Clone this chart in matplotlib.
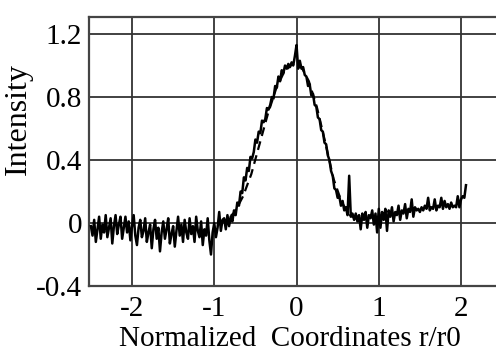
import numpy as np
import matplotlib
matplotlib.use("Agg")
import matplotlib.pyplot as plt

# ---- data ----
seg1_start = -2.5
seg1_y = [-0.02, -0.08, 0.02, -0.12, -0.04, 0.04, -0.10, -0.01, -0.06, 0.05,
          -0.09, -0.03, 0.03, -0.13, -0.02, 0.05, -0.07, -0.01, 0.04, -0.10,
          -0.03, 0.04, -0.06, 0.01, -0.11, -0.02, 0.05, -0.08, -0.14, -0.03,
          0.02, -0.09, -0.05, 0.03, -0.12, -0.06, -0.01, -0.16, -0.04, 0.02,
          -0.10, -0.03, -0.18, -0.06, 0.01, -0.10, -0.04, 0.03, -0.13, -0.07,
          -0.02, -0.15, -0.05, 0.04, -0.08, -0.01, -0.12, 0.02, -0.06, -0.10,
          0.03, -0.07, -0.02, -0.12, 0.04, -0.05, -0.09, 0.01, -0.14, -0.04,
          -0.08, 0.03, -0.11, -0.20, -0.06, 0.00, -0.09, -0.03, 0.07, -0.05,
          0.02]
seg2_start = -0.88
seg2_y = [0.03, -0.04, 0.05, -0.02, 0.04, 0.01, 0.08, 0.05, 0.13, 0.11,
          0.20, 0.19, 0.29, 0.27, 0.35, 0.33, 0.42, 0.41, 0.45, 0.53,
          0.51, 0.58, 0.57, 0.65, 0.64, 0.66, 0.73, 0.72, 0.75, 0.80,
          0.79, 0.87, 0.86, 0.93, 0.90, 0.97, 0.95, 1.00, 0.98, 1.01,
          0.99, 1.02, 1.00, 1.06, 1.13, 0.98, 1.03, 0.98, 0.99, 0.94,
          0.93, 0.87, 0.88, 0.81, 0.82, 0.75, 0.74, 0.67, 0.66, 0.59,
          0.58, 0.51, 0.50, 0.43, 0.40, 0.33, 0.30, 0.22, 0.21, 0.16,
          0.17, 0.11, 0.14, 0.08, 0.10, 0.05, 0.30, 0.04, 0.06, 0.02]
seg3_start = 0.72
seg3_y = [0.06, 0.01, 0.05, -0.04, 0.06, 0.02, 0.07, -0.03, 0.05, 0.03,
          0.08, -0.01, 0.06, -0.06, 0.09, -0.03, 0.07, 0.02, 0.09, -0.05,
          0.08, 0.04, 0.10, 0.01, 0.07, 0.05, 0.11, 0.02, 0.08, 0.06,
          0.12, 0.03, 0.09, 0.07, 0.15, 0.04, 0.10, 0.08, 0.09, 0.07,
          0.10, 0.08, 0.11, 0.09, 0.16, 0.08, 0.10, 0.09, 0.15, 0.08,
          0.11, 0.10, 0.16, 0.09, 0.14, 0.10, 0.12, 0.09, 0.13, 0.10,
          0.11, 0.10, 0.17, 0.10, 0.15, 0.17, 0.16, 0.24]

dash_x = [-0.95, -0.85, -0.75, -0.65, -0.55, -0.45, -0.35, -0.25, -0.15, -0.05,
          0.05, 0.15, 0.25, 0.35, 0.45, 0.55, 0.65, 0.75]
dash_y = [0.00, 0.02, 0.07, 0.17, 0.31, 0.50, 0.69, 0.85, 0.96, 1.01,
          1.00, 0.90, 0.73, 0.51, 0.28, 0.13, 0.05, 0.02]

xticks = [-2, -1, 0, 1, 2]
xtick_labels = ["-2", "-1", "0", "1", "2"]
yticks = [-0.4, 0, 0.4, 0.8, 1.2]
ytick_labels = ["-0.4", "0", "0.4", "0.8", "1.2"]

def seg_x(start, ys):
    return start + 0.02 * np.arange(len(ys))

x_solid = np.concatenate([seg_x(seg1_start, seg1_y), seg_x(seg2_start, seg2_y), seg_x(seg3_start, seg3_y)])
y_solid = np.concatenate([seg1_y, seg2_y, seg3_y])

plt.rcParams['font.family'] = ['Liberation Serif', 'DejaVu Serif']

fig = plt.figure(figsize=(4.96, 3.53), dpi=100)
ax = fig.add_axes([89/496, 1 - 286/353, 1 - 89/496, (286 - 17)/353])
ax.set_xlim(-2.523, 2.425)
ax.set_ylim(-0.4, 1.308)

ax.plot(dash_x, dash_y, color='black', lw=1.6, dashes=(4, 2.5), zorder=3)
ax.plot(x_solid, y_solid, color='black', lw=1.8, zorder=4)

ax.set_xticks(xticks)
ax.set_xticklabels(xtick_labels)
ax.set_yticks(yticks)
ax.set_yticklabels(ytick_labels)
ax.tick_params(length=0, labelsize=21, pad=5)
ax.tick_params(axis='x', pad=7)
ax.grid(True, color='#333333', lw=1.3)
ax.set_axisbelow(True)

for s in ['left', 'bottom', 'top']:
    ax.spines[s].set_color('#444444')
    ax.spines[s].set_linewidth(1.6)
ax.spines['right'].set_visible(False)

ax.set_xlabel("Normalized  Coordinates r/r0", fontsize=21)
ax.set_ylabel("Intensity", fontsize=23)
ax.xaxis.set_label_coords((290 - 89) / 407, -(346 - 286) / 269)
ax.xaxis.label.set_va('baseline')
ax.yaxis.set_label_coords(-(89 - 18) / 407, (286 - 119) / 269)
ax.yaxis.label.set_va('center')

fig.savefig("out.png", dpi=100)
